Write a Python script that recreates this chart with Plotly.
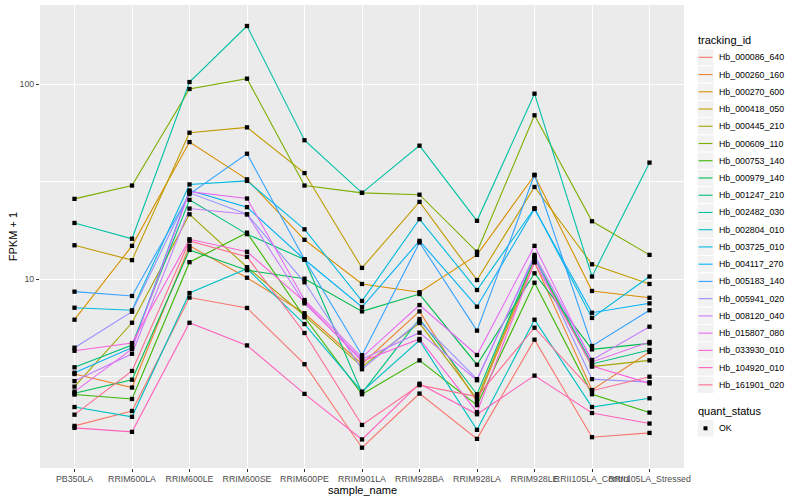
import plotly.graph_objects as go

# ---------------- data ----------------
samples = ["PB350LA", "RRIM600LA", "RRIM600LE", "RRIM600SE", "RRIM600PE",
           "RRIM901LA", "RRIM928BA", "RRIM928LA", "RRIM928LE",
           "RRII105LA_Control", "RRII105LA_Stressed"]

tracking_ids = ["Hb_000086_640", "Hb_000260_160", "Hb_000270_600", "Hb_000418_050",
                "Hb_000445_210", "Hb_000609_110", "Hb_000753_140", "Hb_000979_140",
                "Hb_001247_210", "Hb_002482_030", "Hb_002804_010", "Hb_003725_010",
                "Hb_004117_270", "Hb_005183_140", "Hb_005941_020", "Hb_008120_040",
                "Hb_015807_080", "Hb_033930_010", "Hb_104920_010", "Hb_161901_020"]

# FPKM + 1 for each tracking_id, in sample order
Hb_000086_640 = [1.76, 2.10, 8.03, 7.10, 3.65, 1.36, 2.58, 1.51, 4.88, 1.54, 1.62]
Hb_000260_160 = [3.25, 2.77, 14.8, 10.15, 6.67, 3.66, 6.82, 2.34, 12.2, 2.69, 4.22]
Hb_000270_600 = [6.18, 14.8, 50.5, 32.5, 15.9, 9.43, 8.55, 13.3, 34.1, 8.68, 8.01]
Hb_000418_050 = [14.9, 12.5, 56.4, 60.1, 35.0, 11.4, 24.9, 9.88, 29.7, 11.9, 9.43]
Hb_000445_210 = [2.80, 5.96, 21.5, 11.5, 6.48, 3.55, 5.94, 2.42, 12.7, 3.55, 3.82]
Hb_000609_110 = [25.8, 30.2, 94.6, 106.9, 30.2, 27.7, 27.1, 13.8, 69.3, 19.8, 13.3]
Hb_000753_140 = [2.55, 2.42, 12.2, 17.3, 6.36, 2.56, 3.82, 2.25, 9.57, 2.56, 2.06]
Hb_000979_140 = [2.59, 3.04, 14.1, 11.1, 10.04, 6.82, 8.37, 3.63, 10.7, 4.35, 4.67]
Hb_001247_210 = [3.52, 4.58, 25.5, 17.0, 12.6, 2.60, 6.23, 2.56, 12.9, 3.66, 4.32]
Hb_002482_030 = [19.4, 16.1, 102.7, 199.3, 51.6, 27.7, 48.4, 19.9, 89.5, 10.3, 39.6]
Hb_002804_010 = [2.20, 1.96, 8.47, 11.3, 5.87, 2.64, 4.84, 1.68, 6.18, 2.20, 2.44]
Hb_003725_010 = [7.12, 6.91, 30.6, 31.9, 18.0, 7.71, 20.3, 8.78, 23.1, 6.31, 10.3]
Hb_004117_270 = [3.30, 4.44, 28.5, 23.4, 12.6, 7.18, 15.7, 7.21, 22.9, 6.71, 7.50]
Hb_005183_140 = [8.61, 8.18, 27.3, 44.0, 12.6, 4.06, 15.4, 5.43, 34.3, 4.53, 6.91]
Hb_005941_020 = [4.44, 6.79, 27.7, 21.5, 9.62, 3.44, 6.06, 3.06, 13.0, 3.06, 2.95]
Hb_008120_040 = [2.99, 4.13, 23.0, 21.5, 7.50, 3.87, 5.30, 3.02, 13.3, 3.84, 5.69]
Hb_015807_080 = [2.64, 4.37, 28.1, 25.9, 7.80, 3.96, 7.35, 4.07, 14.8, 3.75, 4.75]
Hb_033930_010 = [4.28, 4.69, 16.0, 13.8, 7.65, 3.78, 4.92, 2.07, 12.2, 3.57, 2.91]
Hb_104920_010 = [1.72, 1.64, 5.96, 4.56, 2.57, 1.50, 2.90, 2.02, 3.19, 2.05, 1.81]
Hb_161901_020 = [2.01, 3.37, 15.7, 13.0, 5.28, 1.78, 2.85, 2.49, 5.62, 2.67, 3.15]

series_values = [Hb_000086_640, Hb_000260_160, Hb_000270_600, Hb_000418_050,
                 Hb_000445_210, Hb_000609_110, Hb_000753_140, Hb_000979_140,
                 Hb_001247_210, Hb_002482_030, Hb_002804_010, Hb_003725_010,
                 Hb_004117_270, Hb_005183_140, Hb_005941_020, Hb_008120_040,
                 Hb_015807_080, Hb_033930_010, Hb_104920_010, Hb_161901_020]

colors = ["#F8766D", "#EA8331", "#D89000", "#C09B00", "#A3A500", "#7CAE00",
          "#39B600", "#00BB4E", "#00BF7D", "#00C1A3", "#00BFC4", "#00BAE0",
          "#00B0F6", "#35A2FF", "#9590FF", "#C77CFF", "#E76BF3", "#FA62DB",
          "#FF62BC", "#FF6C91"]

y_tick_vals = [10, 100]
y_tick_text = ["10", "100"]
y_minor_vals = [10 ** 0.5, 10 ** 1.5]

# ---------------- layout geometry (pixels) ----------------
W, H = 800, 500
L, R, T, B = 40, 684, 5, 468
FONT = "Liberation Sans, Arial, Helvetica, sans-serif"


def px_x(px):
    return (px - L) / (R - L)


def px_y(py):
    return (B - py) / (B - T)


fig = go.Figure()

for name, vals, col in zip(tracking_ids, series_values, colors):
    fig.add_trace(go.Scatter(x=samples, y=vals, mode="lines", name=name,
                             line=dict(color=col, width=1.1),
                             showlegend=False, hoverinfo="x+y+name"))

all_x = []
all_y = []
for vals in series_values:
    all_x.extend(samples)
    all_y.extend(vals)
fig.add_trace(go.Scatter(x=all_x, y=all_y, mode="markers", name="OK",
                         marker=dict(symbol="square", size=4.3, color="black"),
                         showlegend=False))

# ---------------- manual ggplot-style legend ----------------
shapes = []
annotations = []
annotations.append(dict(x=px_x(696), y=px_y(40), xref="paper", yref="paper",
                        text="tracking_id", showarrow=False, xanchor="left",
                        yanchor="middle", font=dict(family=FONT, size=11, color="black")))
step = 17.24
for i, (name, col) in enumerate(zip(tracking_ids, colors)):
    cy = 57.3 + i * step
    shapes.append(dict(type="rect", xref="paper", yref="paper",
                       x0=px_x(697), x1=px_x(714), y0=px_y(cy - step / 2), y1=px_y(cy + step / 2),
                       fillcolor="#F2F2F2", line=dict(color="white", width=1), layer="above"))
    shapes.append(dict(type="line", xref="paper", yref="paper",
                       x0=px_x(698.5), x1=px_x(712.5), y0=px_y(cy), y1=px_y(cy),
                       line=dict(color=col, width=1.1), layer="above"))
    annotations.append(dict(x=px_x(716.5), y=px_y(cy), xref="paper", yref="paper",
                            text=name, showarrow=False, xanchor="left", yanchor="middle",
                            font=dict(family=FONT, size=8.8, color="black")))

annotations.append(dict(x=px_x(696), y=px_y(411), xref="paper", yref="paper",
                        text="quant_status", showarrow=False, xanchor="left",
                        yanchor="middle", font=dict(family=FONT, size=11, color="black")))
cy = 428.3
shapes.append(dict(type="rect", xref="paper", yref="paper",
                   x0=px_x(697), x1=px_x(714), y0=px_y(cy - step / 2), y1=px_y(cy + step / 2),
                   fillcolor="#F2F2F2", line=dict(color="white", width=1), layer="above"))
shapes.append(dict(type="rect", xref="paper", yref="paper",
                   x0=px_x(703.5), x1=px_x(707.5), y0=px_y(cy - 2), y1=px_y(cy + 2),
                   fillcolor="black", line=dict(width=0), layer="above"))
annotations.append(dict(x=px_x(716.5), y=px_y(cy), xref="paper", yref="paper",
                        text="OK", showarrow=False, xanchor="left", yanchor="middle",
                        font=dict(family=FONT, size=8.8, color="black")))

# axis titles
annotations.append(dict(x=0.5, y=px_y(489.5), xref="paper", yref="paper",
                        text="sample_name", showarrow=False, xanchor="center", yanchor="middle",
                        font=dict(family=FONT, size=11, color="black")))
annotations.append(dict(x=px_x(12.7), y=0.5, xref="paper", yref="paper",
                        text="FPKM + 1", showarrow=False, xanchor="center", yanchor="middle",
                        textangle=-90, font=dict(family=FONT, size=11, color="black")))

fig.update_layout(
    width=W, height=H,
    margin=dict(l=L, r=W - R, t=T, b=H - B, pad=0),
    paper_bgcolor="white", plot_bgcolor="#EBEBEB",
    font=dict(family=FONT, size=9, color="#4D4D4D"),
    showlegend=False,
    shapes=shapes, annotations=annotations,
    xaxis=dict(type="category", range=[-0.6, len(samples) - 0.4],
               showgrid=True, gridcolor="white", gridwidth=1.1,
               ticks="outside", ticklen=2.5, tickwidth=1, tickcolor="#333333",
               tickangle=0, tickfont=dict(family=FONT, size=8.8, color="#4D4D4D"),
               showline=False, zeroline=False, fixedrange=True),
    yaxis=dict(type="log", range=[0.0293, 2.4073],
               tickvals=y_tick_vals, ticktext=y_tick_text,
               showgrid=True, gridcolor="white", gridwidth=1.1,
               ticks="outside", ticklen=3, tickwidth=1, tickcolor="#333333",
               tickfont=dict(family=FONT, size=8.8, color="#4D4D4D"),
               minor=dict(tickvals=y_minor_vals, showgrid=True, gridcolor="white",
                          gridwidth=0.55, ticks=""),
               showline=False, zeroline=False, fixedrange=True),
)

fig.write_html("out.html", config={"displayModeBar": False},
               post_script="document.body.style.margin='0';document.body.style.padding='0';")
